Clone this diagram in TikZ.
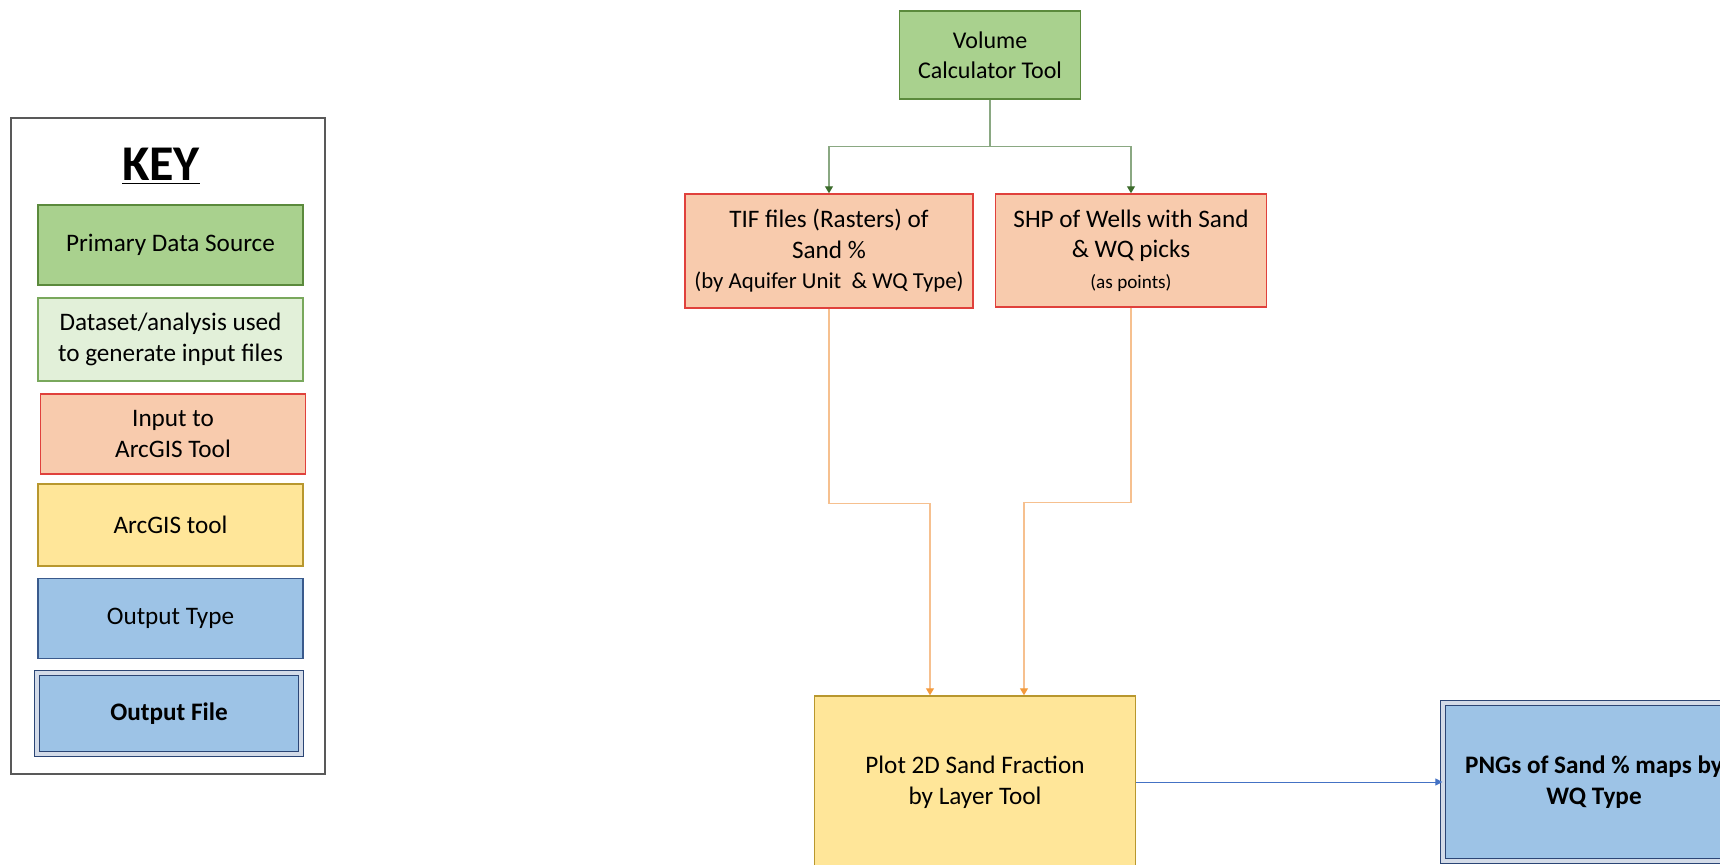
\documentclass[tikz,border=0pt]{standalone}
\usepackage{fontspec}
\setmainfont{Carlito}
\usetikzlibrary{arrows.meta, positioning}
\definecolor{srcfill}{HTML}{A9D18E}
\definecolor{srcline}{HTML}{5B8A3C}
\definecolor{dsfill}{HTML}{E2F0D9}
\definecolor{dsline}{HTML}{79A85C}
\definecolor{infill}{HTML}{F8CBAD}
\definecolor{inline}{HTML}{E0413C}
\definecolor{toolfill}{HTML}{FFE699}
\definecolor{toolline}{HTML}{B8972E}
\definecolor{outfill}{HTML}{9DC3E6}
\definecolor{outline}{HTML}{3A5A8C}
\definecolor{fileline}{HTML}{2B4575}
\definecolor{fileband}{HTML}{D3DBE8}
\definecolor{greenlink}{HTML}{8AA882}
\definecolor{greentip}{HTML}{3B6B2B}
\definecolor{orangelink}{HTML}{F6C08F}
\definecolor{orangetip}{HTML}{F39A3C}
\definecolor{bluelink}{HTML}{4472C4}
\tikzset{
  basebox/.style={
    rectangle, line width=0.75pt, align=center,
    font=\fontsize{12.6}{15.3}\selectfont, inner sep=2pt
  },
  srcbox/.style={basebox, draw=srcline, fill=srcfill},
  dsbox/.style={basebox, draw=dsline, fill=dsfill},
  inbox/.style={basebox, draw=inline, fill=infill},
  toolbox/.style={basebox, draw=toolline, fill=toolfill},
  outbox/.style={basebox, draw=outline, fill=outfill},
  filebox/.style={
    basebox, draw=fileline, fill=outfill, line width=0.6pt,
    double=fileband, double distance=1.6pt, font=\fontsize{12.6}{15.3}\selectfont\bfseries
  },
  keysize/.style={minimum width=132.5pt, minimum height=40pt},
  keyframe/.style={rectangle, draw=black!65, line width=0.8pt, minimum width=157pt, minimum height=328pt},
  greenarrow/.style={draw=greenlink, line width=0.6pt, -{Triangle[length=3.5pt,width=4pt,color=greentip]}},
  orangearrow/.style={draw=orangelink, line width=0.6pt, -{Triangle[length=3.5pt,width=4pt,color=orangetip]}},
  bluearrow/.style={draw=bluelink, line width=0.5pt, -{Triangle[length=3.5pt,width=3.5pt,color=bluelink]}}
}

\begin{document}
\begin{tikzpicture}[x=0.5pt, y=-0.5pt, node distance=6pt]
  \useasboundingbox (0,0) rectangle (1720,864);
  \clip (0,0) rectangle (1720,864);

  \node[keyframe] (key) at (168,446) {};
  \node[font=\fontsize{25}{30}\selectfont\bfseries] (keytitle) at (161,166) {\underline{KEY}};
  \node[srcbox, keysize] (kprim) at (170.5,245) {Primary Data Source};
  \node[dsbox, keysize, minimum height=41.5pt] (kds) at (170.5,339.5)
    {Dataset/analysis used\\to generate input files};
  \node[inbox, keysize] (kin) at (173,434) {Input to\\ArcGIS Tool};
  \node[toolbox, keysize, minimum height=41pt] (ktool) at (170.5,525) {ArcGIS tool};
  \node[outbox, keysize] (ktype) at (170.5,618.5) {Output Type};
  \node[filebox, minimum width=132pt, minimum height=40.5pt] (kfile) at (169,713.5) {Output File};

  \node[srcbox, font=\fontsize{12}{15}\selectfont, minimum width=90.5pt, minimum height=44pt] (vol) at (990,55)
    {Volume\\Calculator Tool};
  \node[inbox, minimum width=144pt, minimum height=57pt] (tif) at (829,251)
    {TIF files (Rasters) of\\Sand \%\\{\fontsize{11.4}{14}\selectfont(by Aquifer Unit \ \& WQ Type)}};
  \node[inbox, minimum width=135.5pt, minimum height=56.5pt] (shp) at (1131,250.5)
    {SHP of Wells with Sand\\\& WQ picks\\{\fontsize{9.6}{11}\selectfont(as points)}};
  \node[toolbox, minimum width=160.5pt, minimum height=86pt] (plot) at (975,782)
    {Plot 2D Sand Fraction\\by Layer Tool};
  \node[filebox, minimum width=151pt, minimum height=79pt] (png) at (1594,782)
    {PNGs of Sand \% maps by\\WQ Type};

  \foreach \n in {tif, shp}
    \draw[greenarrow] (vol.south) -- ++(0,47) -| (\n.north);
  \draw[orangearrow] (tif.south) -- ++(0,195) -| ([xshift=-22.5pt]plot.north);
  \draw[orangearrow] (shp.south) -- ++(0,195) -| ([xshift=24.5pt]plot.north);
  \draw[bluearrow] (plot.east) -- (png.west);
\end{tikzpicture}
\end{document}
